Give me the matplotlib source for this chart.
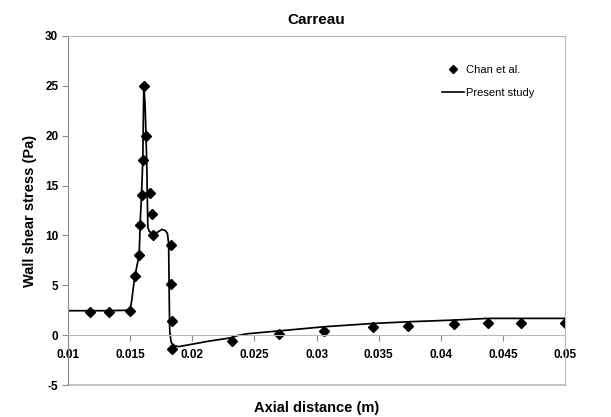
import matplotlib
matplotlib.use("Agg")
import matplotlib.pyplot as plt
from matplotlib.lines import Line2D

plt.rcParams['font.family'] = ['Liberation Sans', 'DejaVu Sans']
plt.rcParams['axes.unicode_minus'] = False

# Chan et al. data points
chan_x = [0.01181, 0.01330, 0.01500, 0.01541, 0.01574, 0.01582, 0.01592, 0.01602,
          0.01612, 0.01628, 0.01663, 0.01673, 0.01684, 0.01827, 0.01827, 0.01835,
          0.01837, 0.02319, 0.02695, 0.03060, 0.03454, 0.03738, 0.04103, 0.04378,
          0.04643, 0.05000]
chan_y = [2.3, 2.35, 2.45, 5.9, 8.0, 11.0, 14.1, 17.6,
          25.0, 20.0, 14.3, 12.1, 10.0, 9.0, 5.1, 1.4,
          -1.4, -0.55, 0.1, 0.45, 0.8, 0.9, 1.1, 1.2,
          1.2, 1.2]

# Present study curve
study_x = [0.0100, 0.0130, 0.0150, 0.01513, 0.01526, 0.01538, 0.01559, 0.01572,
           0.01577, 0.01580, 0.01592, 0.01602, 0.01610, 0.01620, 0.01628, 0.01635,
           0.01640, 0.01643, 0.01654, 0.01680, 0.01718, 0.01756, 0.01782, 0.01800,
           0.01810, 0.01815, 0.01818, 0.01820, 0.01828, 0.01833, 0.01859, 0.01892,
           0.02135, 0.02319, 0.02360, 0.02450, 0.02695, 0.03060, 0.03454, 0.03738,
           0.04103, 0.04378, 0.05000]
study_y = [2.45, 2.45, 2.5, 3.5, 4.8, 5.9, 7.2, 8.0,
           9.5, 11.1, 14.1, 17.6, 25.0, 23.2, 20.0, 16.5,
           12.5, 10.8, 10.4, 10.2, 10.3, 10.6, 10.5, 10.2,
           9.2, 3.5, 0.8, 0.3, -0.5, -0.8, -1.07, -1.15,
           -0.6, -0.25, -0.05, 0.15, 0.42, 0.84, 1.17, 1.34,
           1.51, 1.68, 1.68]

xticks = [0.01, 0.015, 0.02, 0.025, 0.03, 0.035, 0.04, 0.045, 0.05]
xtick_labels = ['0.01', '0.015', '0.02', '0.025', '0.03', '0.035', '0.04', '0.045', '0.05']
yticks = [-5, 0, 5, 10, 15, 20, 25, 30]

fig = plt.figure(figsize=(6.11, 4.17), dpi=100)
ax = fig.add_axes([68/611, 1-385/417, (565-68)/611, (385-36)/417])

ax.plot(study_x, study_y, color='black', lw=1.25, label='Present study')
ax.plot(chan_x, chan_y, 'D', color='black', ms=5, label='Chan et al.')

ax.set_xlim(0.01, 0.05)
ax.set_ylim(-5, 30)
ax.set_xticks(xticks)
ax.set_xticklabels(xtick_labels)
ax.set_yticks(yticks)

gray = '#8c8c8c'
light = '#b8b8b8'
ax.spines['bottom'].set_position(('data', 0))
ax.spines['bottom'].set_color(light)
ax.spines['top'].set_color(light)
ax.spines['right'].set_color(light)
ax.spines['left'].set_color(gray)
ax.axhline(-5, color=light, lw=1.2, clip_on=False)

ax.tick_params(axis='x', direction='out', length=4, color=gray, pad=6)
ax.tick_params(axis='y', direction='out', length=4, color=gray, pad=3)
for lab in ax.get_xticklabels() + ax.get_yticklabels():
    lab.set_fontweight('bold')
    lab.set_fontsize(8.5)

ax.set_title('Carreau', fontsize=11, fontweight='bold', pad=9)
ax.set_ylabel('Wall shear stress (Pa)', fontsize=10.5, fontweight='bold', labelpad=6)
fig.text(317/611, 1-408/417, 'Axial distance (m)', fontsize=10.5, fontweight='bold',
         ha='center', va='center')

handles = [Line2D([], [], marker='D', color='black', ls='none', ms=4),
           Line2D([], [], color='black', lw=1.2)]
fig.legend(handles, ['Chan et al.', 'Present study'], loc='upper left',
           bbox_to_anchor=(432/611, 1-55/417), frameon=False, fontsize=8,
           labelspacing=1.15, handlelength=2.0, handletextpad=0.2)

fig.savefig('out.png', dpi=100)
